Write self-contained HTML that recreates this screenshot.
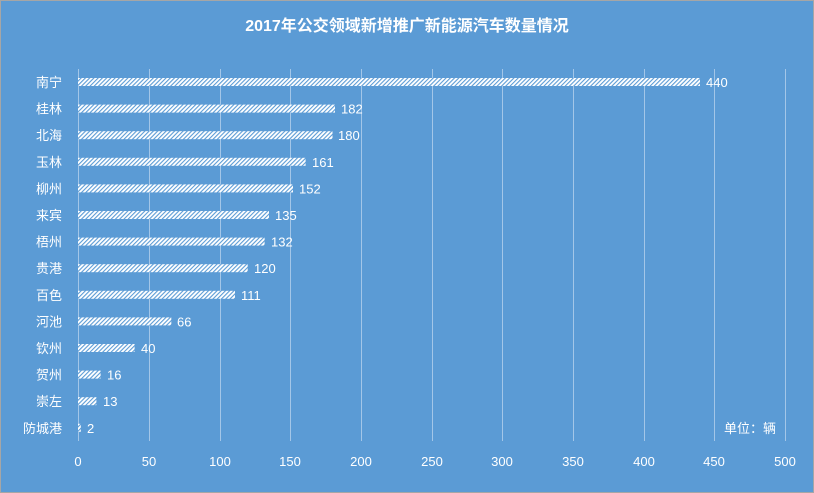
<!DOCTYPE html>
<html><head><meta charset="utf-8"><style>
body{margin:0}
svg{display:block}
text{font-family:"Liberation Sans","Noto Sans CJK SC",sans-serif;fill:#fff}
</style></head><body>
<svg width="814" height="493" viewBox="0 0 814 493">
<defs>
<pattern id="h" width="3" height="3" patternUnits="userSpaceOnUse" patternTransform="rotate(45)">
<rect width="3" height="3" fill="#fff"/>
<rect width="1.1" height="3" fill="#5b9bd5"/>
</pattern>
</defs>
<rect x="0.5" y="0.5" width="813" height="492" fill="#5b9bd5" stroke="#a6a6a6"/>
<text x="407" y="31" font-size="16" font-weight="bold" text-anchor="middle">2017年公交领域新增推广新能源汽车数量情况</text>
<g stroke="#a3c6e8" stroke-width="1">
<line x1="78.5" y1="69" x2="78.5" y2="441"/>
<line x1="149.5" y1="69" x2="149.5" y2="441"/>
<line x1="220.5" y1="69" x2="220.5" y2="441"/>
<line x1="290.5" y1="69" x2="290.5" y2="441"/>
<line x1="361.5" y1="69" x2="361.5" y2="441"/>
<line x1="432.5" y1="69" x2="432.5" y2="441"/>
<line x1="502.5" y1="69" x2="502.5" y2="441"/>
<line x1="573.5" y1="69" x2="573.5" y2="441"/>
<line x1="644.5" y1="69" x2="644.5" y2="441"/>
<line x1="714.5" y1="69" x2="714.5" y2="441"/>
<line x1="785.5" y1="69" x2="785.5" y2="441"/>
</g>
<g font-size="13" text-anchor="middle">
<text x="78" y="466">0</text><text x="149" y="466">50</text><text x="220" y="466">100</text><text x="290" y="466">150</text><text x="361" y="466">200</text><text x="432" y="466">250</text><text x="502" y="466">300</text><text x="573" y="466">350</text><text x="644" y="466">400</text><text x="714" y="466">450</text><text x="785" y="466">500</text>
</g>
<text x="750" y="433" font-size="13" text-anchor="middle">单位：辆</text>
<g font-size="13">
<g transform="translate(0,82)"><text x="62" y="5" text-anchor="end">南宁</text><rect x="78" y="-4" width="622" height="8" fill="url(#h)"/><text x="706" y="5">440</text></g>
<g transform="translate(0,108.6)"><text x="62" y="5" text-anchor="end">桂林</text><rect x="78" y="-4" width="257" height="8" fill="url(#h)"/><text x="341" y="5">182</text></g>
<g transform="translate(0,135.2)"><text x="62" y="5" text-anchor="end">北海</text><rect x="78" y="-4" width="254.5" height="8" fill="url(#h)"/><text x="338" y="5">180</text></g>
<g transform="translate(0,161.8)"><text x="62" y="5" text-anchor="end">玉林</text><rect x="78" y="-4" width="227.6" height="8" fill="url(#h)"/><text x="312" y="5">161</text></g>
<g transform="translate(0,188.4)"><text x="62" y="5" text-anchor="end">柳州</text><rect x="78" y="-4" width="215" height="8" fill="url(#h)"/><text x="299" y="5">152</text></g>
<g transform="translate(0,215)"><text x="62" y="5" text-anchor="end">来宾</text><rect x="78" y="-4" width="191" height="8" fill="url(#h)"/><text x="275" y="5">135</text></g>
<g transform="translate(0,241.6)"><text x="62" y="5" text-anchor="end">梧州</text><rect x="78" y="-4" width="186.6" height="8" fill="url(#h)"/><text x="271" y="5">132</text></g>
<g transform="translate(0,268.2)"><text x="62" y="5" text-anchor="end">贵港</text><rect x="78" y="-4" width="169.7" height="8" fill="url(#h)"/><text x="254" y="5">120</text></g>
<g transform="translate(0,294.8)"><text x="62" y="5" text-anchor="end">百色</text><rect x="78" y="-4" width="157" height="8" fill="url(#h)"/><text x="241" y="5">111</text></g>
<g transform="translate(0,321.4)"><text x="62" y="5" text-anchor="end">河池</text><rect x="78" y="-4" width="93.3" height="8" fill="url(#h)"/><text x="177" y="5">66</text></g>
<g transform="translate(0,348)"><text x="62" y="5" text-anchor="end">钦州</text><rect x="78" y="-4" width="56.6" height="8" fill="url(#h)"/><text x="141" y="5">40</text></g>
<g transform="translate(0,374.6)"><text x="62" y="5" text-anchor="end">贺州</text><rect x="78" y="-4" width="22.6" height="8" fill="url(#h)"/><text x="107" y="5">16</text></g>
<g transform="translate(0,401.2)"><text x="62" y="5" text-anchor="end">崇左</text><rect x="78" y="-4" width="18.4" height="8" fill="url(#h)"/><text x="103" y="5">13</text></g>
<g transform="translate(0,427.8)"><text x="62" y="5" text-anchor="end">防城港</text><rect x="78" y="-4" width="2.8" height="8" fill="url(#h)"/><text x="87" y="5">2</text></g>
</g>
</svg>
</body></html>
